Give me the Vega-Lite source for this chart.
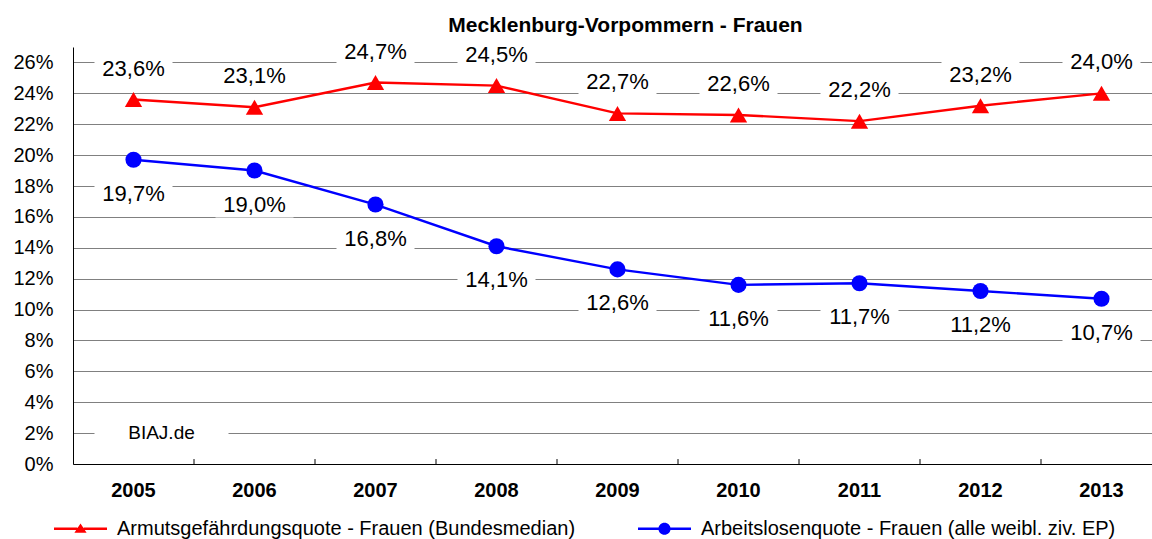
{
  "$schema": "https://vega.github.io/schema/vega-lite/v6.json",
  "width": 1079,
  "height": 417,
  "autosize": "none",
  "padding": {"left": 73, "top": 47, "right": 0, "bottom": 75},
  "background": "white",
  "config": {
    "locale": {"number": {"decimal": ",", "thousands": ".", "grouping": [3], "currency": ["", " €"]}},
    "view": {"stroke": null},
    "font": "Liberation Sans"
  },
  "title": {
    "text": "Mecklenburg-Vorpommern - Frauen",
    "font": "Liberation Sans",
    "fontSize": 21,
    "fontWeight": "bold",
    "color": "black",
    "anchor": "middle",
    "offset": 3,
    "dx": 13
  },
  "data": {
    "values": [
      {"year": "2005", "series": "Armutsgefährdungsquote - Frauen (Bundesmedian)", "v": 0.236},
      {"year": "2006", "series": "Armutsgefährdungsquote - Frauen (Bundesmedian)", "v": 0.231},
      {"year": "2007", "series": "Armutsgefährdungsquote - Frauen (Bundesmedian)", "v": 0.247},
      {"year": "2008", "series": "Armutsgefährdungsquote - Frauen (Bundesmedian)", "v": 0.245},
      {"year": "2009", "series": "Armutsgefährdungsquote - Frauen (Bundesmedian)", "v": 0.227},
      {"year": "2010", "series": "Armutsgefährdungsquote - Frauen (Bundesmedian)", "v": 0.226},
      {"year": "2011", "series": "Armutsgefährdungsquote - Frauen (Bundesmedian)", "v": 0.222},
      {"year": "2012", "series": "Armutsgefährdungsquote - Frauen (Bundesmedian)", "v": 0.232},
      {"year": "2013", "series": "Armutsgefährdungsquote - Frauen (Bundesmedian)", "v": 0.240},
      {"year": "2005", "series": "Arbeitslosenquote - Frauen (alle weibl. ziv. EP)", "v": 0.197},
      {"year": "2006", "series": "Arbeitslosenquote - Frauen (alle weibl. ziv. EP)", "v": 0.190},
      {"year": "2007", "series": "Arbeitslosenquote - Frauen (alle weibl. ziv. EP)", "v": 0.168},
      {"year": "2008", "series": "Arbeitslosenquote - Frauen (alle weibl. ziv. EP)", "v": 0.141},
      {"year": "2009", "series": "Arbeitslosenquote - Frauen (alle weibl. ziv. EP)", "v": 0.126},
      {"year": "2010", "series": "Arbeitslosenquote - Frauen (alle weibl. ziv. EP)", "v": 0.116},
      {"year": "2011", "series": "Arbeitslosenquote - Frauen (alle weibl. ziv. EP)", "v": 0.117},
      {"year": "2012", "series": "Arbeitslosenquote - Frauen (alle weibl. ziv. EP)", "v": 0.112},
      {"year": "2013", "series": "Arbeitslosenquote - Frauen (alle weibl. ziv. EP)", "v": 0.107}
    ]
  },
  "encoding": {
    "x": {
      "field": "year",
      "type": "ordinal",
      "scale": {"type": "band", "range": [0, 1089], "paddingInner": 0, "paddingOuter": 0},
      "axis": {
        "title": null,
        "labelAngle": 0,
        "labelFont": "Liberation Sans",
        "labelFontSize": 20,
        "labelFontWeight": "bold",
        "labelColor": "black",
        "labelPadding": 16,
        "ticks": false,
        "grid": false,
        "domainColor": "black",
        "domainWidth": 1
      }
    },
    "y": {
      "field": "v",
      "type": "quantitative",
      "scale": {"domain": [0, 0.27], "nice": false, "zero": true},
      "axis": {
        "title": null,
        "format": ".0%",
        "values": [0, 0.02, 0.04, 0.06, 0.08, 0.10, 0.12, 0.14, 0.16, 0.18, 0.20, 0.22, 0.24, 0.26],
        "grid": true,
        "gridColor": "#808080",
        "gridWidth": 1,
        "ticks": false,
        "domainColor": "black",
        "domainWidth": 1,
        "labelFont": "Liberation Sans",
        "labelFontSize": 20,
        "labelColor": "black",
        "labelPadding": 20
      }
    }
  },
  "layer": [
    {
      "transform": [{"filter": "indexof(datum.series, 'Armut') === 0 && datum.year !== '2005'"}],
      "mark": {"type": "rule", "color": "black", "strokeWidth": 1},
      "encoding": {
        "x": {"field": "year", "type": "ordinal", "bandPosition": 0},
        "y": {"datum": 0},
        "y2": {"datum": 0.0032}
      }
    },
    {
      "mark": {"type": "line", "strokeWidth": 2.4},
      "encoding": {
        "color": {
          "field": "series",
          "type": "nominal",
          "scale": {
            "domain": ["Armutsgefährdungsquote - Frauen (Bundesmedian)", "Arbeitslosenquote - Frauen (alle weibl. ziv. EP)"],
            "range": ["#ff0000", "#0000ff"]
          },
          "legend": {
            "title": null,
            "orient": "none",
            "legendX": -19,
            "legendY": 455,
            "direction": "horizontal",
            "columns": 2,
            "columnPadding": 62,
            "symbolSize": 2809,
            "symbolOffset": 0,
            "labelOffset": 10,
            "labelFont": "Liberation Sans",
            "labelFontSize": 20,
            "labelColor": "black",
            "labelLimit": 0,
            "padding": 0,
            "encode": {
              "symbols": {
                "update": {
                  "shape": {"signal": "indexof(datum.value, 'Armut') === 0 ? 'M-1,-0.045H-0.12V0.045H-1Z M0.12,-0.045H1V0.045H0.12Z M-0.23,0.15L0,-0.2L0.23,0.15Z' : 'M-1,-0.045H-0.2V0.045H-1Z M0.2,-0.045H1V0.045H0.2Z M-0.23,0A0.23,0.23 0 1,1 0.23,0A0.23,0.23 0 1,1 -0.23,0Z'"},
                  "fill": {"signal": "scale('color', datum.value)"},
                  "stroke": {"signal": "scale('color', datum.value)"},
                  "strokeWidth": {"value": 0},
                  "opacity": {"value": 1}
                }
              }
            }
          }
        }
      }
    },
    {
      "transform": [{"filter": "indexof(datum.series, 'Armut') === 0"}],
      "mark": {"type": "point", "shape": "triangle-up", "filled": true, "opacity": 1, "size": 300},
      "encoding": {
        "color": {"field": "series", "type": "nominal", "legend": null}
      }
    },
    {
      "transform": [{"filter": "indexof(datum.series, 'Armut') !== 0"}],
      "mark": {"type": "point", "shape": "circle", "filled": true, "opacity": 1, "size": 260},
      "encoding": {
        "color": {"field": "series", "type": "nominal", "legend": null}
      }
    },
    {
      "transform": [{"filter": "indexof(datum.series, 'Armut') === 0"}],
      "mark": {"type": "point", "shape": "M-1,-0.333H1V0.333H-1Z", "size": 6084, "filled": true, "color": "white", "opacity": 1, "strokeWidth": 0, "yOffset": -31}
    },
    {
      "transform": [{"filter": "indexof(datum.series, 'Armut') !== 0"}],
      "mark": {"type": "point", "shape": "M-1,-0.333H1V0.333H-1Z", "size": 6084, "filled": true, "color": "white", "opacity": 1, "strokeWidth": 0, "yOffset": 34}
    },
    {
      "transform": [{"filter": "indexof(datum.series, 'Armut') === 0"}],
      "mark": {"type": "text", "font": "Liberation Sans", "fontSize": 22, "color": "black", "baseline": "middle", "align": "center", "dy": -31},
      "encoding": {"text": {"field": "v", "type": "quantitative", "format": ".1%"}}
    },
    {
      "transform": [{"filter": "indexof(datum.series, 'Armut') !== 0"}],
      "mark": {"type": "text", "font": "Liberation Sans", "fontSize": 22, "color": "black", "baseline": "middle", "align": "center", "dy": 34},
      "encoding": {"text": {"field": "v", "type": "quantitative", "format": ".1%"}}
    },
    {
      "data": {"values": [{"year": "2005", "v": 0.02, "t": "BIAJ.de"}]},
      "mark": {"type": "point", "shape": "M-1,-0.2H1V0.2H-1Z", "size": 17956, "filled": true, "color": "white", "opacity": 1, "strokeWidth": 0, "xOffset": 28}
    },
    {
      "data": {"values": [{"year": "2005", "v": 0.02, "t": "BIAJ.de"}]},
      "mark": {"type": "text", "font": "Liberation Sans", "fontSize": 19, "color": "black", "baseline": "middle", "align": "center", "dx": 28},
      "encoding": {"text": {"field": "t", "type": "nominal"}}
    }
  ]
}
